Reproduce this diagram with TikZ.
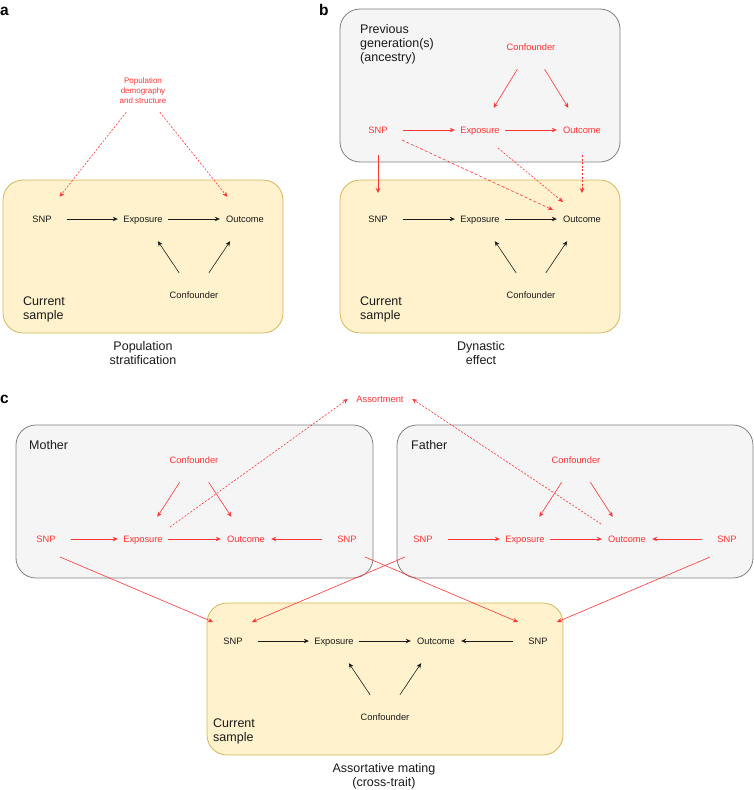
\documentclass[tikz,border=0pt]{standalone}
\usepackage{fontspec}
\setmainfont{Liberation Sans}
\usetikzlibrary{arrows.meta,calc}
\definecolor{rd}{HTML}{FF3333}
\definecolor{yfill}{HTML}{FFF2CC}
\definecolor{ydraw}{HTML}{D6B656}
\definecolor{gfill}{HTML}{F5F5F5}
\definecolor{gdraw}{HTML}{808080}
\definecolor{ink}{HTML}{1A1A1A}
\tikzset{
 nd/.style={font=\fontsize{9.3}{11}\selectfont, minimum width=50pt, minimum height=44pt, inner sep=0pt, text height=6.7pt, text depth=0pt, text=ink},
 rnd/.style={nd, text=rd},
 arr/.style={draw=ink, line width=0.6pt, -{Stealth[length=5pt,width=4.5pt]}},
 rarr/.style={draw=rd, line width=0.6pt, -{Stealth[length=5pt,width=4.5pt]}},
 rdot/.style={rarr, dash pattern=on 2pt off 1.6pt},
 rdash/.style={rarr, dash pattern=on 3pt off 2pt},
 curbox/.style={fill=yfill, draw=ydraw, line width=0.8pt, rounded corners=20pt},
 prevbox/.style={fill=gfill, draw=gdraw, line width=0.8pt, rounded corners=20pt},
 bigtxt/.style={font=\fontsize{12.5}{14}\selectfont, align=left, inner sep=0pt, anchor=west, text=ink},
 captxt/.style={font=\fontsize{12.5}{14}\selectfont, align=center, inner sep=0pt, text=ink},
 paneltxt/.style={font=\fontsize{15.5}{18}\selectfont\bfseries, inner sep=0pt, anchor=base west, text=black}
}
\begin{document}
\begin{tikzpicture}[x=1pt,y=-1pt]
\useasboundingbox (0,0) rectangle (754,790);

% ---------- boxes ----------
\draw[curbox] (3,180) rectangle (283,333);
\draw[prevbox] (340,9) rectangle (620,162);
\draw[curbox] (340,180) rectangle (620,333);
\draw[prevbox] (16,425) rectangle (373,578);
\draw[prevbox] (397,425) rectangle (753,578);
\draw[curbox] (207,603) rectangle (563,755);

% ---------- panel labels ----------
\node[paneltxt] (la) at (0,15) {a};
\node[paneltxt] (lb) at (319,15) {b};
\node[paneltxt] (lc) at (0,403) {c};

% ---------- panel a ----------
\node[font=\fontsize{8}{10}\selectfont, align=center, text=rd, minimum width=70pt, minimum height=42pt, inner sep=0pt] (aP) at (143,91) {Population\\demography\\and structure};
\node[nd] (aS) at (42,219) {SNP};
\node[nd] (aE) at (143,219) {Exposure};
\node[nd] (aO) at (245,219) {Outcome};
\node[nd] (aC) at (194,295) {Confounder};
\draw[arr] (aS) -- (aE);
\draw[arr] (aE) -- (aO);
\draw[arr] (aC) -- (aE);
\draw[arr] (aC) -- (aO);
\draw[rdot] (aP) -- (aS);
\draw[rdot] (aP) -- (aO);
\node[bigtxt] (aCur) at (23,309) {Current\\sample};
\node[captxt] (aT) at (143,353) {Population\\stratification};

% ---------- panel b ----------
\node[bigtxt] (bPrev) at (360,44) {Previous\\generation(s)\\(ancestry)};
\node[rnd] (bpS) at (378,130) {SNP};
\node[rnd] (bpE) at (480,130) {Exposure};
\node[rnd] (bpO) at (582,130) {Outcome};
\node[rnd] (bpC) at (531,47) {Confounder};
\draw[rarr] (bpS) -- (bpE);
\draw[rarr] (bpE) -- (bpO);
\draw[rarr] (bpC) -- (bpE);
\draw[rarr] (bpC) -- (bpO);

\node[nd] (bS) at (378,219) {SNP};
\node[nd] (bE) at (480,219) {Exposure};
\node[nd] (bO) at (582,219) {Outcome};
\node[nd] (bC) at (531,295) {Confounder};
\draw[arr] (bS) -- (bE);
\draw[arr] (bE) -- (bO);
\draw[arr] (bC) -- (bE);
\draw[arr] (bC) -- (bO);

\draw[rarr] ($(bpS)+(0,25)$) -- ($(bS)+(0,-26)$);
\draw[rdash] ($(bpS)+(24,10)$) -- ($(bO)+(-29,-9)$);
\draw[rdot] ($(bpE)+(18,18)$) -- ($(bO)+(-19,-17)$);
\draw[rdot] ($(bpO)+(0,25)$) -- ($(bO)+(0,-26)$);
\node[bigtxt] (bCur) at (360,309) {Current\\sample};
\node[captxt] (bT) at (481,353) {Dynastic\\effect};

% ---------- panel c ----------
\node[font=\fontsize{9.3}{11}\selectfont, text=rd, minimum width=64pt, minimum height=14pt, inner sep=0pt] (asrt) at (380,399) {Assortment};

\node[bigtxt] (mLab) at (29,445) {Mother};
\node[rnd] (mC) at (194,460) {Confounder};
\node[rnd] (mS) at (46,539) {SNP};
\node[rnd] (mE) at (143,539) {Exposure};
\node[rnd] (mO) at (246,539) {Outcome};
\node[rnd] (mS2) at (347,539) {SNP};
\draw[rarr] (mS) -- (mE);
\draw[rarr] (mE) -- (mO);
\draw[rarr] (mS2) -- (mO);
\draw[rarr] (mC) -- (mE);
\draw[rarr] (mC) -- (mO);

\node[bigtxt] (fLab) at (411,445) {Father};
\node[rnd] (fC) at (576,460) {Confounder};
\node[rnd] (fS) at (423,539) {SNP};
\node[rnd] (fE) at (525,539) {Exposure};
\node[rnd] (fO) at (627,539) {Outcome};
\node[rnd] (fS2) at (727,539) {SNP};
\draw[rarr] (fS) -- (fE);
\draw[rarr] (fE) -- (fO);
\draw[rarr] (fS2) -- (fO);
\draw[rarr] (fC) -- (fE);
\draw[rarr] (fC) -- (fO);

\node[nd] (cS) at (233,641) {SNP};
\node[nd] (cE) at (334,641) {Exposure};
\node[nd] (cO) at (436,641) {Outcome};
\node[nd] (cS2) at (538,641) {SNP};
\node[nd] (cC) at (385,717) {Confounder};
\draw[arr] (cS) -- (cE);
\draw[arr] (cE) -- (cO);
\draw[arr] (cS2) -- (cO);
\draw[arr] (cC) -- (cE);
\draw[arr] (cC) -- (cO);

\draw[rarr] ($(mS)+(14,18)$) -- ($(cS)+(-20,-19)$);
\draw[rarr] ($(mS2)+(18,18)$) -- ($(cS2)+(-20,-19)$);
\draw[rarr] ($(fS)+(-18,18)$) -- ($(cS)+(19,-19)$);
\draw[rarr] ($(fS2)+(-17,18)$) -- ($(cS2)+(19,-19)$);

\draw[rdot] ($(mE)+(27,-12)$) -- (asrt.west);
\draw[rdot] ($(fO)+(-26,-15)$) -- (asrt.east);

\node[bigtxt] (cCur) at (213,731) {Current\\sample};
\node[captxt] (cT) at (384,776) {Assortative mating\\(cross-trait)};
\end{tikzpicture}
\end{document}
